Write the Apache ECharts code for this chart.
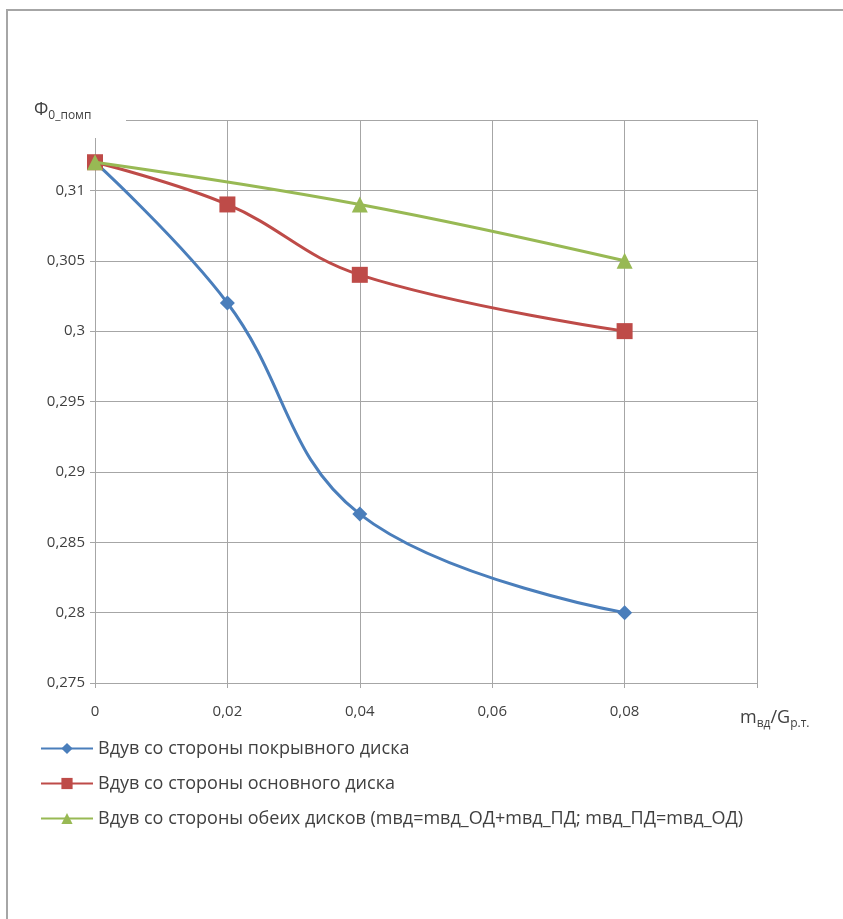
<!DOCTYPE html>
<html>
<head>
<meta charset="utf-8">
<script src="https://cdn.jsdelivr.net/npm/echarts@6/dist/echarts.min.js"></script>
<style>
html,body{margin:0;padding:0;background:#fff;}
#chart{width:843px;height:919px;}
</style>
</head>
<body>
<div id="chart"></div>
<script>
const xValues = [0, 0.02, 0.04, 0.08];
const blueValues = [0.312, 0.302, 0.287, 0.280];
const redValues = [0.312, 0.309, 0.304, 0.300];
const greenX = [0, 0.04, 0.08];
const greenValues = [0.312, 0.309, 0.305];
const seriesNames = [
  'Вдув со стороны покрывного диска',
  'Вдув со стороны основного диска',
  'Вдув со стороны обеих дисков (mвд=mвд_ОД+mвд_ПД; mвд_ПД=mвд_ОД)'
];
const FONT = '"Open Sans", sans-serif';
const TXT = '#404040';

function fmt(v) {
  return String(+v.toFixed(3)).replace('.', ',');
}
function pairs(xs, ys) { return xs.map((x, i) => [x, ys[i]]); }

const chart = echarts.init(document.getElementById('chart'), null, {renderer: 'canvas'});
chart.setOption({
  backgroundColor: '#fff',
  animation: false,
  textStyle: {fontFamily: FONT},
  grid: {left: 95, top: 120, width: 662, height: 563, containLabel: false},
  xAxis: {
    type: 'value', min: 0, max: 0.1, interval: 0.02,
    axisLine: {show: true, lineStyle: {color: '#a6a6a6', width: 1}},
    axisTick: {show: true, length: 5, lineStyle: {color: '#a6a6a6'}},
    splitLine: {show: true, lineStyle: {color: '#a6a6a6', width: 1}},
    axisLabel: {
      color: TXT, fontSize: 15, fontFamily: FONT, margin: 21,
      formatter: v => (Math.abs(v - 0.1) < 1e-9 ? '' : fmt(v))
    }
  },
  yAxis: {
    type: 'value', min: 0.275, max: 0.315, interval: 0.005,
    axisLine: {show: true, lineStyle: {color: '#a6a6a6', width: 1}},
    axisTick: {show: true, length: 5, lineStyle: {color: '#a6a6a6'}},
    splitLine: {show: true, lineStyle: {color: '#a6a6a6', width: 1}},
    axisLabel: {
      color: TXT, fontSize: 15, fontFamily: FONT, margin: 10,
      formatter: v => (Math.abs(v - 0.315) < 1e-9 ? '' : fmt(v))
    }
  },
  legend: {
    orient: 'vertical', left: 35, top: 731, itemGap: 10,
    itemWidth: 52, itemHeight: 14,
    textStyle: {color: TXT, fontSize: 18, fontFamily: FONT, lineHeight: 25},
    data: seriesNames
  },
  series: [
    {
      name: seriesNames[0], type: 'line', smooth: 0.4,
      data: pairs(xValues, blueValues),
      symbol: 'diamond', symbolSize: 15,
      lineStyle: {color: '#4a7ebb', width: 3},
      itemStyle: {color: '#4a7ebb'}, z: 3
    },
    {
      name: seriesNames[1], type: 'line', smooth: 0.4,
      data: pairs(xValues, redValues),
      symbol: 'rect', symbolSize: 16,
      lineStyle: {color: '#be4b48', width: 3},
      itemStyle: {color: '#be4b48'}, z: 4
    },
    {
      name: seriesNames[2], type: 'line', smooth: 0.4,
      data: pairs(greenX, greenValues),
      symbol: 'triangle', symbolSize: 16,
      lineStyle: {color: '#98b954', width: 3},
      itemStyle: {color: '#98b954'}, z: 5
    }
  ],
  graphic: [
    {
      type: 'polyline', z: 100,
      shape: {points: [[7, 919], [7, 10], [843, 10]]},
      style: {stroke: '#a6a6a6', lineWidth: 2, fill: null}
    },
    {
      type: 'rect', z: 50,
      shape: {x: 30, y: 100, width: 96, height: 38},
      style: {fill: '#fff'}
    },
    {
      type: 'text', z: 60, left: 34, top: 101,
      style: {
        text: 'Ф{sub|0_помп}',
        font: '18px ' + FONT, fill: TXT,
        rich: {sub: {fontSize: 12, fontFamily: FONT, fill: TXT, padding: [12, 0, 0, 0]}}
      }
    },
    {
      type: 'text', z: 60, left: 740, top: 709,
      style: {
        text: 'm{sub|вд}/G{sub|р.т.}',
        font: '18px ' + FONT, fill: TXT,
        rich: {sub: {fontSize: 12, fontFamily: FONT, fill: TXT, padding: [12, 0, 0, 0]}}
      }
    }
  ]
});
</script>
</body>
</html>
